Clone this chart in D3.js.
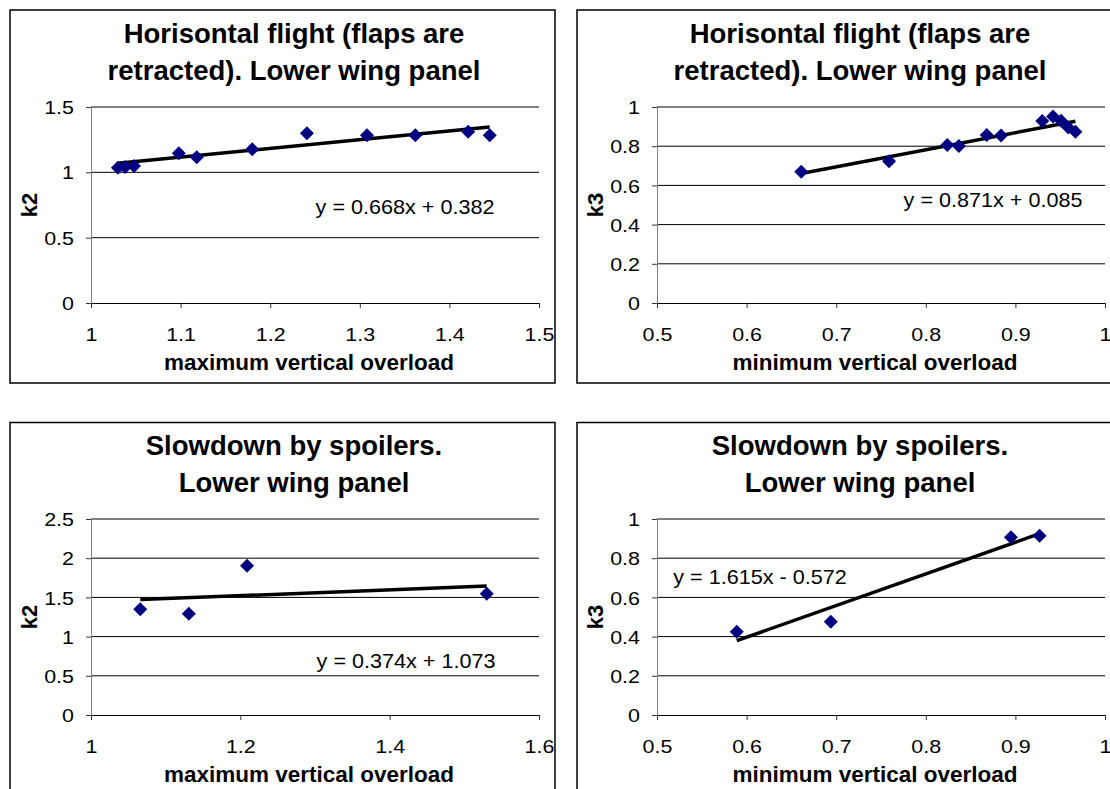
<!DOCTYPE html>
<html>
<head>
<meta charset="utf-8">
<script src="https://cdn.jsdelivr.net/npm/d3@7"></script>
<style>
  body { margin: 0; background: #fff; }
  text { font-family: "Liberation Sans", Arial, sans-serif; }
</style>
</head>
<body>
<div id="chart"></div>
<script>
// horizontal flight, max overload vs k2
const hfMaxX = [1.030, 1.038, 1.048, 1.098, 1.118, 1.180, 1.241, 1.308, 1.362, 1.421, 1.445]
const hfK2 = [1.035, 1.040, 1.048, 1.146, 1.115, 1.176, 1.299, 1.283, 1.283, 1.311, 1.283]
// horizontal flight, min overload vs k3
const hfMinX = [0.661, 0.759, 0.824, 0.837, 0.868, 0.884, 0.930, 0.942, 0.951, 0.959, 0.967]
const hfK3 = [0.670, 0.723, 0.806, 0.801, 0.857, 0.854, 0.929, 0.951, 0.930, 0.895, 0.874]
// spoilers
const spMaxX = [1.066, 1.131, 1.209, 1.530]
const spK2 = [1.348, 1.292, 1.905, 1.547]
const spMinX = [0.589, 0.694, 0.895, 0.927]
const spK3 = [0.425, 0.476, 0.907, 0.915]

// trend lines y = a*x + b
const trends = [[0.668, 0.382], [0.871, 0.085], [0.374, 1.073], [1.615, -0.572]]
const trendLabels = ["y = 0.668x + 0.382", "y = 0.871x + 0.085", "y = 0.374x + 1.073", "y = 1.615x - 0.572"]

const xTicksMax1 = [1, 1.1, 1.2, 1.3, 1.4, 1.5]
const xTicksMin = [0.5, 0.6, 0.7, 0.8, 0.9, 1]
const xTicksMax2 = [1, 1.2, 1.4, 1.6]
const yTicksK2a = [0, 0.5, 1, 1.5]
const yTicksK3 = [0, 0.2, 0.4, 0.6, 0.8, 1]
const yTicksK2b = [0, 0.5, 1, 1.5, 2, 2.5]

const titleHf = ["Horisontal flight (flaps are", "retracted). Lower wing panel"]
const titleSp = ["Slowdown by spoilers.", "Lower wing panel"]

const SX = 1.13   // horizontal stretch of the small text

const svg = d3.select("#chart").append("svg")
    .attr("width", 1110)
    .attr("height", 789)
svg.append("rect").attr("width", 1110).attr("height", 789).attr("fill", "#fff")

const panels = [
  { ox: 0, oy: 0, xs: hfMaxX, ys: hfK2, xt: xTicksMax1, yt: yTicksK2a, trend: trends[0], eq: trendLabels[0],
    eqPos: [405, 214], title: titleHf, xTitle: "maximum vertical overload", yTitle: "k2" },
  { ox: 566, oy: 0, xs: hfMinX, ys: hfK3, xt: xTicksMin, yt: yTicksK3, trend: trends[1], eq: trendLabels[1],
    eqPos: [993, 207], title: titleHf, xTitle: "minimum vertical overload", yTitle: "k3" },
  { ox: 0, oy: 412, xs: spMaxX, ys: spK2, xt: xTicksMax2, yt: yTicksK2b, trend: trends[2], eq: trendLabels[2],
    eqPos: [406, 668], title: titleSp, xTitle: "maximum vertical overload", yTitle: "k2" },
  { ox: 566, oy: 412, xs: spMinX, ys: spK3, xt: xTicksMin, yt: yTicksK3, trend: trends[3], eq: trendLabels[3],
    eqPos: [760, 584], title: titleSp, xTitle: "minimum vertical overload", yTitle: "k3" }
]

const diamond = "M0,-7L7,0L0,7L-7,0Z"

panels.forEach(p => {
  const left = 91 + p.ox, right = 539 + p.ox
  const top = 107 + p.oy, bottom = 303 + p.oy

  // frame
  svg.append("rect")
    .attr("x", 10 + p.ox + (p.ox ? 1 : 0)).attr("y", 10 + p.oy + (p.oy ? 0.5 : 0))
    .attr("width", 545).attr("height", 373)
    .attr("fill", "none").attr("stroke", "#000").attr("stroke-width", 1.5)

  const x = d3.scaleLinear().domain(d3.extent(p.xt)).range([left, right])
  const y = d3.scaleLinear().domain(d3.extent(p.yt)).range([bottom, top])

  // gridlines
  svg.append("g").selectAll("line")
    .data(p.yt.slice(1))
    .enter().append("line")
    .attr("x1", left).attr("x2", right)
    .attr("y1", d => y(d)).attr("y2", d => y(d))
    .attr("stroke", "#000").attr("stroke-width", 1)

  // x axis
  const xa = svg.append("g")
    .attr("transform", `translate(0,${bottom})`)
    .call(d3.axisBottom(x).tickValues(p.xt).tickSize(5).tickSizeOuter(0).tickFormat(d3.format("")))
  xa.select(".domain").attr("stroke", "#000")
  xa.selectAll(".tick line").attr("stroke", "#333")
  xa.selectAll(".tick text")
    .attr("y", 0).attr("dy", 0)
    .attr("transform", `translate(0,38) scale(${SX},1)`)
    .attr("font-size", 19).attr("font-family", "Liberation Sans, Arial, sans-serif").attr("fill", "#000")

  // y axis
  const ya = svg.append("g")
    .attr("transform", `translate(${left},0)`)
    .call(d3.axisLeft(y).tickValues(p.yt).tickSize(5).tickSizeOuter(0).tickFormat(d3.format("")))
  ya.select(".domain").attr("stroke", "#808080")
  ya.selectAll(".tick line").attr("stroke", "#333")
  ya.selectAll(".tick text")
    .attr("x", 0).attr("dy", "0.35em")
    .attr("transform", `translate(-17,0) scale(${SX},1)`)
    .attr("font-size", 19).attr("font-family", "Liberation Sans, Arial, sans-serif").attr("fill", "#000")

  // trend line
  const [a, b] = p.trend
  const ext = d3.extent(p.xs)
  svg.append("path")
    .datum(ext)
    .attr("d", d3.line().x(d => x(d)).y(d => y(a * d + b)))
    .attr("stroke", "#000").attr("stroke-width", 3.5).attr("fill", "none")

  // points
  svg.append("g").selectAll("path")
    .data(p.xs.map((d, i) => [d, p.ys[i]]))
    .enter().append("path")
    .attr("d", diamond)
    .attr("transform", d => `translate(${x(d[0])},${y(d[1])})`)
    .attr("fill", "#000080")

  // equation
  svg.append("text")
    .attr("transform", `translate(${p.eqPos[0]},${p.eqPos[1]}) scale(1.08,1)`)
    .attr("text-anchor", "middle")
    .attr("font-size", 20)
    .text(p.eq)

  // titles
  svg.append("text")
    .attr("x", 294 + p.ox).attr("y", 43 + p.oy)
    .attr("text-anchor", "middle").attr("font-weight", "bold").attr("font-size", 27.5)
    .text(p.title[0])
  svg.append("text")
    .attr("x", 294 + p.ox).attr("y", 80 + p.oy)
    .attr("text-anchor", "middle").attr("font-weight", "bold").attr("font-size", 27.5)
    .text(p.title[1])

  svg.append("text")
    .attr("x", 309 + p.ox).attr("y", 370 + p.oy)
    .attr("text-anchor", "middle").attr("font-weight", "bold").attr("font-size", 22.5)
    .text(p.xTitle)

  svg.append("text")
    .attr("transform", `translate(${left - 54},${(top + bottom) / 2}) rotate(-90)`)
    .attr("text-anchor", "middle").attr("font-weight", "bold").attr("font-size", 22)
    .text(p.yTitle)
})
</script>
</body>
</html>
